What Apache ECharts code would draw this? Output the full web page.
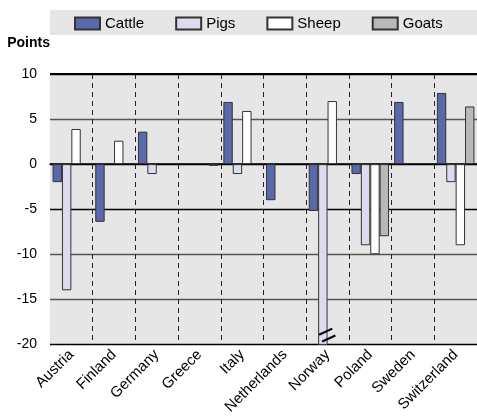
<!DOCTYPE html>
<html>
<head>
<meta charset="utf-8">
<script src="https://cdn.jsdelivr.net/npm/echarts@6/dist/echarts.min.js"></script>
<style>
  html, body { margin: 0; padding: 0; background: #fff; }
  #chart { width: 477px; height: 417px; }
</style>
</head>
<body>
<div id="chart"></div>
<script>
// Data
const countries = ['Austria', 'Finland', 'Germany', 'Greece', 'Italy', 'Netherlands', 'Norway', 'Poland', 'Sweden', 'Switzerland']
const cattle = [-2.0, -6.4, 3.6, null, 6.9, -4.0, -5.2, -1.1, 6.9, 7.9]
const pigs = [-14.0, null, -1.1, null, -1.1, null, -22.0, -9.0, null, -2.0]
const sheep = [3.9, 2.6, null, null, 5.9, null, 7.0, -10.0, null, -9.0]
const goats = [null, null, null, -0.2, null, null, null, -8.0, null, 6.4]
const yTicks = [-20, -15, -10, -5, 0, 5, 10]

const font = 'Liberation Sans'
const chart = echarts.init(document.getElementById('chart'))

function barSeries(name, data, color) {
  return {
    name,
    type: 'bar',
    data,
    barGap: '0%',
    barCategoryGap: '12%',
    clip: true,
    itemStyle: { color, borderColor: '#333', borderWidth: 1 },
  }
}

// Norway pigs bar runs off the scale -> break mark
const pigsData = pigs.map((v, i) => {
  if (countries[i] !== 'Norway') return v
  return {
    value: v,
    label: {
      show: true,
      position: 'insideBottom',
      formatter: '=',
      rotate: 25,
      fontSize: 30,
      fontFamily: font,
      color: '#000',
      align: 'center',
      verticalAlign: 'middle',
      offset: [6, -1],
    },
  }
})

const cattleSeries = barSeries('Cattle', cattle, '#5a69ab')
// thick top border at 10
cattleSeries.markLine = {
  silent: true,
  symbol: 'none',
  label: { show: false },
  lineStyle: { color: '#000', width: 2, type: 'solid' },
  data: [{ yAxis: 10 }],
}

chart.setOption({
  animation: false,
  textStyle: { fontFamily: font },
  graphic: [{
    type: 'rect',
    left: 50,
    top: 10,
    shape: { width: 427, height: 25 },
    style: { fill: '#e6e6e6' },
    z: -1,
  }],
  legend: {
    top: 16,
    left: 74,
    width: 403,
    icon: 'rect',
    itemWidth: 25,
    itemHeight: 12,
    itemGap: 31,
    padding: 0,
    textStyle: { fontSize: 15, color: '#000', fontFamily: font },
    data: ['Cattle', 'Pigs', 'Sheep', 'Goats'],
  },
  grid: {
    left: 50,
    right: 0,
    top: 74,
    bottom: 71,
    show: true,
    backgroundColor: '#e6e6e6',
    borderWidth: 0,
  },
  xAxis: {
    type: 'category',
    data: countries,
    axisLine: { onZero: true, lineStyle: { color: '#000', width: 1.5 } },
    axisTick: { show: false },
    axisLabel: {
      rotate: 45,
      fontSize: 15,
      color: '#000',
      margin: 8,
      interval: 0,
      fontFamily: font,
    },
    splitLine: {
      show: true,
      interval: (i) => i > 0,
      lineStyle: { color: '#222', type: [5, 4], width: 1 },
    },
  },
  yAxis: {
    type: 'value',
    min: -20,
    max: 10,
    interval: 5,
    name: 'Points',
    nameLocation: 'end',
    nameGap: 24,
    nameTextStyle: { align: 'right', fontSize: 14, color: '#000', fontWeight: 'bold', fontFamily: font },
    axisLine: { show: false },
    axisTick: { show: false },
    axisLabel: {
      fontSize: 14,
      color: '#000',
      margin: 13,
      fontFamily: font,
      customValues: yTicks,
    },
    splitLine: {
      lineStyle: {
        color: ['#000', '#555', '#555', '#000', '#000', '#555', '#000'],
        width: 1.3,
      },
    },
  },
  series: [
    cattleSeries,
    barSeries('Pigs', pigsData, '#dcdcee'),
    barSeries('Sheep', sheep, '#ffffff'),
    barSeries('Goats', goats, '#b8b8b8'),
  ],
})
</script>
</body>
</html>
